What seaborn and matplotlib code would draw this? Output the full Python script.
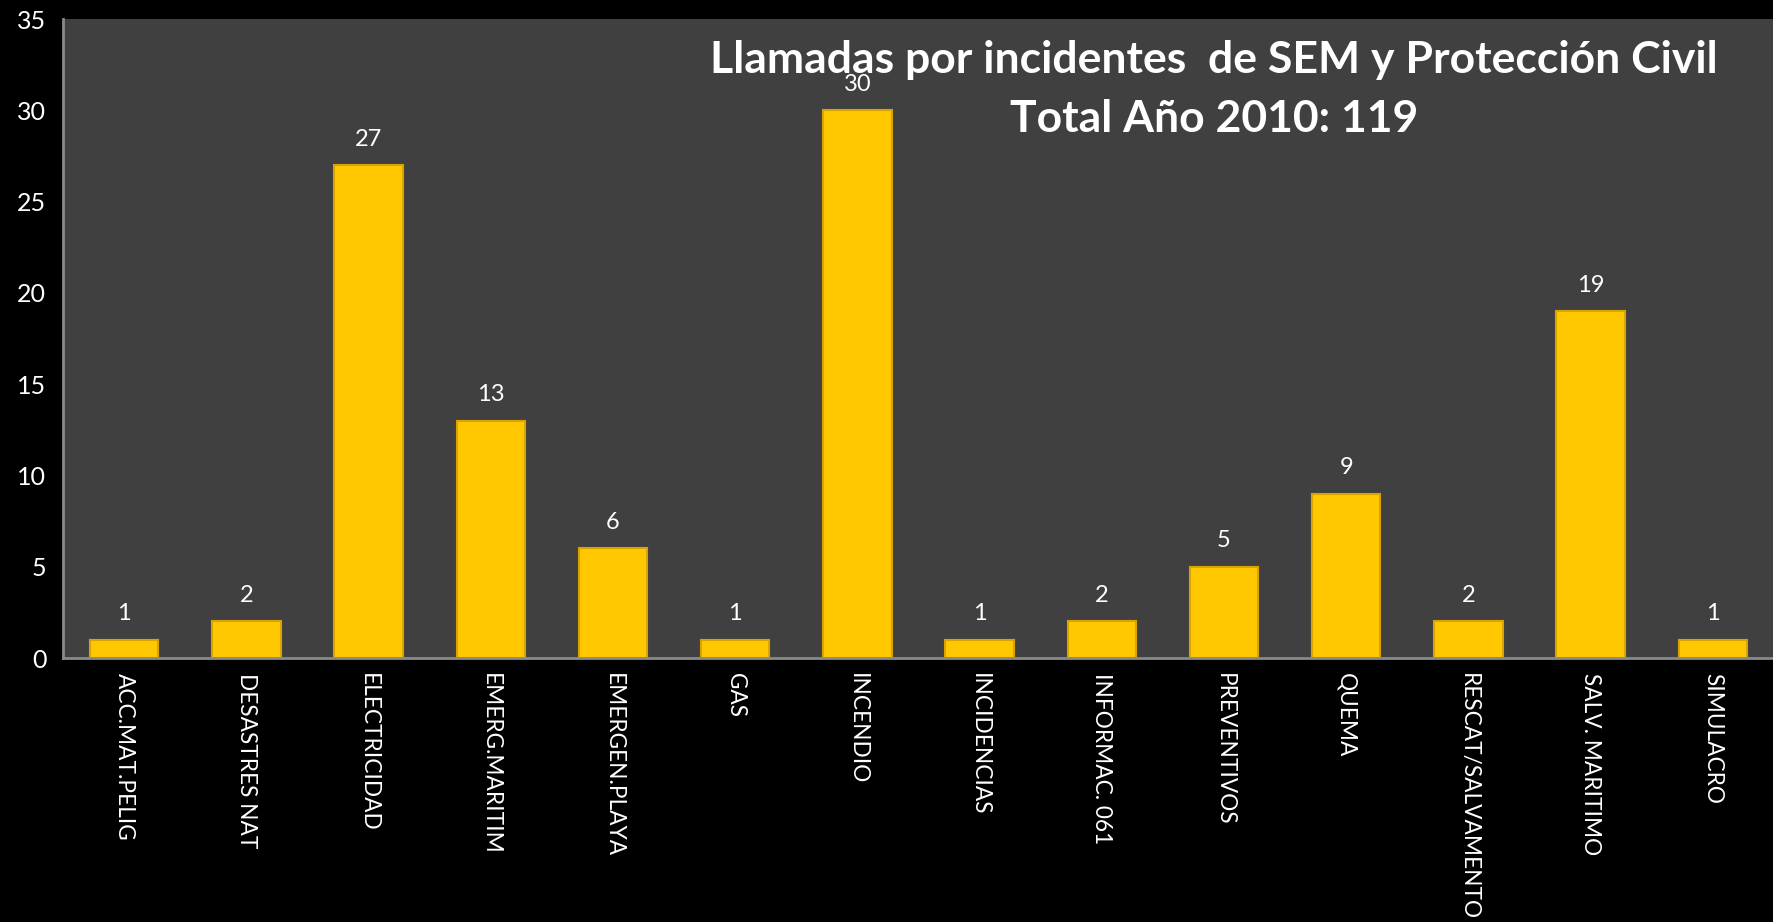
import matplotlib
matplotlib.use('Agg')
import matplotlib.pyplot as plt
import seaborn as sns

# Llamadas por incidentes, año 2010
categories = ['ACC.MAT.PELIG', 'DESASTRES NAT', 'ELECTRICIDAD', 'EMERG.MARITIM',
              'EMERGEN.PLAYA', 'GAS', 'INCENDIO', 'INCIDENCIAS', 'INFORMAC. 061',
              'PREVENTIVOS', 'QUEMA', 'RESCAT/SALVAMENTO', 'SALV. MARITIMO', 'SIMULACRO']
calls = [1, 2, 27, 13, 6, 1, 30, 1, 2, 5, 9, 2, 19, 1]
y_ticks = [0, 5, 10, 15, 20, 25, 30, 35]

sns.set_style('dark')
plt.rcParams['font.family'] = ['Lato', 'DejaVu Sans']

fig = plt.figure(figsize=(17.74, 9.22), dpi=100, facecolor='black')
ax = fig.add_axes([63 / 1774, 1 - 658 / 922, 1 - 63 / 1774, (658 - 19) / 922])
ax.set_facecolor('#404040')

sns.barplot(x=categories, y=calls, color='#FFC800', width=0.56, saturation=1,
            edgecolor='#D9A400', linewidth=1.5, ax=ax)

for cont in ax.containers:
    ax.bar_label(cont, labels=[str(v) for v in calls], padding=11,
                 color='white', fontsize=17)

ax.set_ylim(0, 35)
ax.set_yticks(y_ticks)
ax.set_xlim(-0.5, len(categories) - 0.5)
ax.tick_params(axis='y', colors='white', labelsize=18, length=0, pad=12)
ax.tick_params(axis='x', colors='white', labelsize=16.3, length=0, pad=11,
               labelrotation=270)
for lbl in ax.get_xticklabels():
    lbl.set_verticalalignment('top')
    lbl.set_horizontalalignment('center')

ax.grid(False)
for side in ['top', 'right']:
    ax.spines[side].set_visible(False)
for side in ['left', 'bottom']:
    ax.spines[side].set_visible(True)
    ax.spines[side].set_color('#8a8a8a')
    ax.spines[side].set_linewidth(2)

fig.text(1214 / 1774, 1 - 60 / 922, 'Llamadas por incidentes  de SEM y Protección Civil',
         color='white', fontsize=32, fontweight='bold', ha='center', va='center')
fig.text(1214 / 1774, 1 - 119 / 922, 'Total Año 2010: 119',
         color='white', fontsize=32, fontweight='bold', ha='center', va='center')

fig.savefig('out.png', dpi=100, facecolor='black')
